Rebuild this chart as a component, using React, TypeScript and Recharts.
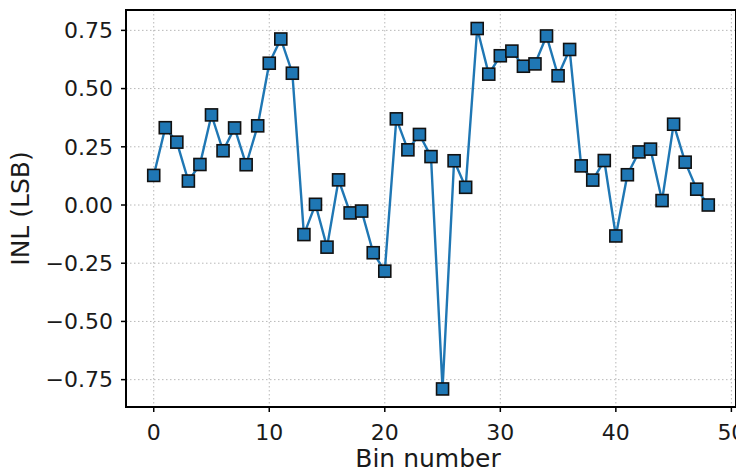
import React from 'react';
import { LineChart, Line, XAxis, YAxis, CartesianGrid, Label } from 'recharts';

const bins = [0,1,2,3,4,5,6,7,8,9,10,11,12,13,14,15,16,17,18,19,20,21,22,23,24,25,26,27,28,29,30,31,32,33,34,35,36,37,38,39,40,41,42,43,44,45,46,47,48];
const inl = [0.127,0.332,0.27,0.103,0.174,0.387,0.233,0.331,0.173,0.34,0.609,0.713,0.566,-0.127,0.003,-0.181,0.108,-0.034,-0.026,-0.205,-0.284,0.37,0.237,0.303,0.208,-0.79,0.19,0.076,0.758,0.562,0.641,0.661,0.596,0.606,0.726,0.555,0.668,0.168,0.107,0.191,-0.133,0.13,0.228,0.24,0.019,0.347,0.184,0.068,0.0];
const xTicks = [0,10,20,30,40,50];
const yTicks = [-0.75,-0.5,-0.25,0,0.25,0.5,0.75];
const xDomain = [-2.4, 50.4];
const yDomain = [-0.8675, 0.8375];

const data = bins.map((b, i) => ({ bin: b, inl: inl[i] }));

const FONT = '"DejaVu Sans", sans-serif';
const TXT = '#1a1a1a';

const fmtY = (v: number) => {
  const s = Math.abs(v).toFixed(2);
  return v < 0 ? '\u2212' + s : s;
};

const SquareDot = (props: any) => {
  const { cx, cy, index } = props;
  if (cx == null || cy == null) return <g key={index} />;
  return (
    <rect key={index} x={cx - 6} y={cy - 6} width={12} height={12} fill="#1f77b4" stroke="#111" strokeWidth={1.6} />
  );
};

// Chart sits at the page's default 8px body offset, so it is 736x466.
const W = 736;
const H = 466;
const M = { top: 2, right: 8, left: 0, bottom: 0 };
const YW = 118;
const XH = 67;
const PL = M.left + YW;
const PT = M.top;
const PW = W - M.right - PL;
const PH = H - M.bottom - XH - PT;

const Frame = () => (
  <g>
    <rect x={PL - 1} y={PT - 1} width={PW + 2} height={2} fill="#000" />
    <rect x={PL + PW - 1} y={PT - 1} width={2} height={PH + 2} fill="#000" />
    <rect x={PL - 1} y={PT + PH - 1} width={PW + 2} height={2} fill="#000" />
    <rect x={PL - 1} y={PT - 1} width={2} height={PH + 2} fill="#000" />
  </g>
);

export default function App() {
  return (
    <div style={{ width: W, height: H, background: '#fff' }}>
      <LineChart width={W} height={H} data={data} margin={M}>
        <CartesianGrid stroke="#b8b8b8" strokeDasharray="1.5 2.5" strokeWidth={1} />
        <XAxis
          dataKey="bin"
          type="number"
          domain={xDomain}
          ticks={xTicks}
          allowDataOverflow
          height={XH}
          tickSize={5}
          tickMargin={12}
          axisLine={{ stroke: '#000', strokeWidth: 2 }}
          tickLine={{ stroke: '#000', strokeWidth: 1.5 }}
          tick={{ fill: TXT, fontSize: 22, fontFamily: FONT }}
        >
          <Label
            content={() => (
              <g>
                <Frame />
                <text x={PL + PW / 2 - 3} y={459} textAnchor="middle" fill={TXT} fontSize={25} fontFamily={FONT}>Bin number</text>
              </g>
            )}
          />
        </XAxis>
        <YAxis
          type="number"
          domain={yDomain}
          ticks={yTicks}
          allowDataOverflow
          width={YW}
          tickSize={5}
          tickMargin={8}
          tickFormatter={fmtY}
          axisLine={{ stroke: '#000', strokeWidth: 2 }}
          tickLine={{ stroke: '#000', strokeWidth: 1.5 }}
          tick={{ fill: TXT, fontSize: 22, fontFamily: FONT }}
        >
          <Label
            content={() => (
              <text x={21} y={PT + PH / 2} transform={`rotate(-90 21 ${PT + PH / 2})`} textAnchor="middle" fill={TXT} fontSize={25} fontFamily={FONT}>INL (LSB)</text>
            )}
          />
        </YAxis>
        <Line
          dataKey="inl"
          stroke="#1f77b4"
          strokeWidth={2.4}
          dot={SquareDot}
          activeDot={false}
          isAnimationActive={false}
        />
      </LineChart>
    </div>
  );
}
